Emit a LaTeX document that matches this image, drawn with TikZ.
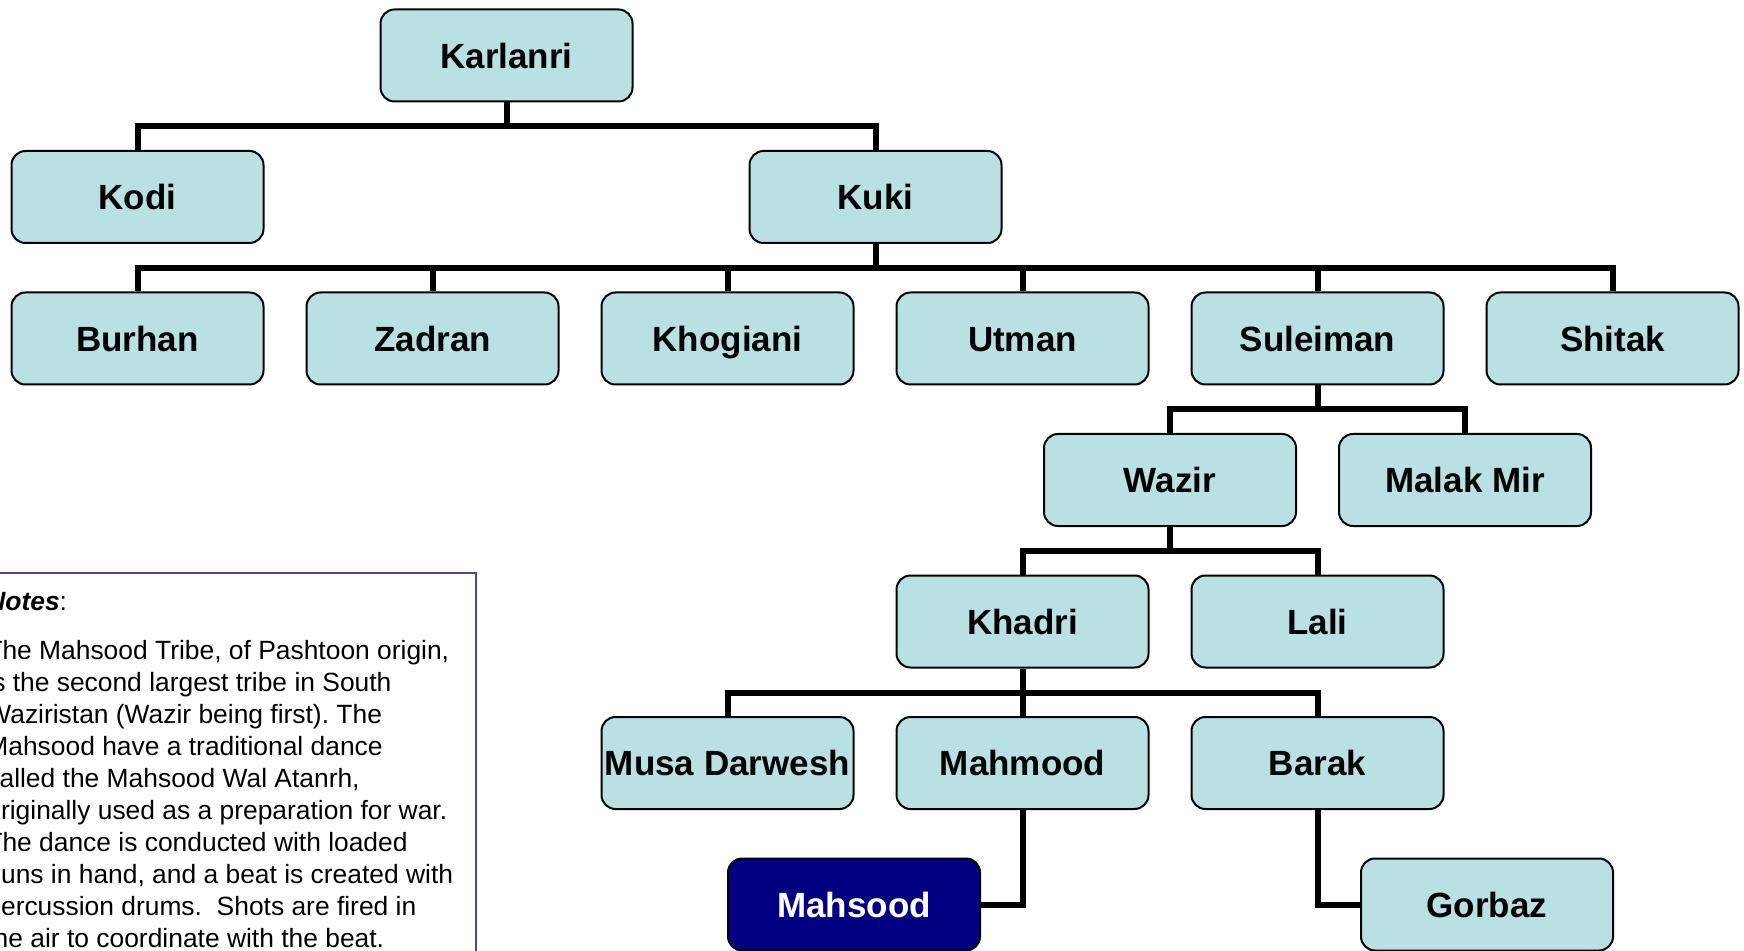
\documentclass[tikz,border=0pt]{standalone}
\usepackage{fontspec}
\setmainfont{Liberation Sans}
\frenchspacing

\definecolor{tribefill}{RGB}{185,224,227}
\definecolor{mahsoodfill}{RGB}{0,0,128}
\definecolor{notesline}{RGB}{72,72,160}

\begin{document}
\begin{tikzpicture}[x=0.5pt,y=-0.5pt,
    tribe/.style={draw=black, line width=1pt, fill=tribefill, rounded corners=7pt,
        minimum width=126pt, minimum height=46pt, inner sep=1pt,
        text height=12.6pt, text depth=0pt,
        font=\fontsize{17.5}{21}\selectfont\bfseries},
    mahsood/.style={tribe, fill=mahsoodfill, text=white},
    link/.style={line width=3pt},
    notestext/.style={inner sep=0pt, font=\fontsize{13.2}{16}\selectfont}]

        \def \colstep {295}
        \def \rowstep {141.5}
        \def \toprow {55.5}
        \def \firstcol {137.5}
        \def \busdrop {24}

        \useasboundingbox (0,0) rectangle (1744,951);
        \clip (0,0) rectangle (1744,951);

        % top of the tree
        \node[tribe] (Karlanri) at (506.5, \toprow) {Karlanri};
        \node[tribe] (Kodi) at (\firstcol, {\toprow + \rowstep}) {Kodi};
        \node[tribe] (Kuki) at (875.5, {\toprow + \rowstep}) {Kuki};

        % sons of Kuki
        \foreach \name [count=\i] in {Burhan, Zadran, Khogiani, Utman, Suleiman, Shitak}{
            \node[tribe] (\name) at ({\firstcol + \colstep*(\i-1)}, {\toprow + 2*\rowstep}) {\name};
        };

        \node[tribe] (Wazir) at (1170, {\toprow + 3*\rowstep}) {Wazir};
        \node[tribe] (MalakMir) at (1465, {\toprow + 3*\rowstep}) {Malak Mir};

        \node[tribe] (Khadri) at (1022.5, {\toprow + 4*\rowstep}) {Khadri};
        \node[tribe] (Lali) at (1317.5, {\toprow + 4*\rowstep}) {Lali};

        \node[tribe] (MusaDarwesh) at (727.5, {\toprow + 5*\rowstep}) {Musa Darwesh};
        \node[tribe] (Mahmood) at (1022.5, {\toprow + 5*\rowstep}) {Mahmood};
        \node[tribe] (Barak) at (1317.5, {\toprow + 5*\rowstep}) {Barak};

        \node[mahsood] (Mahsood) at (854, {\toprow + 6*\rowstep}) {Mahsood};
        \node[tribe] (Gorbaz) at (1487, {\toprow + 6*\rowstep}) {Gorbaz};

        % connectors
        \foreach \child in {Kodi, Kuki}{
            \draw[link] (Karlanri.south) -- ++(0,\busdrop) -| (\child.north);
        };
        \foreach \child in {Burhan, Zadran, Khogiani, Utman, Suleiman, Shitak}{
            \draw[link] (Kuki.south) -- ++(0,\busdrop) -| (\child.north);
        };
        \foreach \child in {Wazir, MalakMir}{
            \draw[link] (Suleiman.south) -- ++(0,\busdrop) -| (\child.north);
        };
        \foreach \child in {Khadri, Lali}{
            \draw[link] (Wazir.south) -- ++(0,\busdrop) -| (\child.north);
        };
        \foreach \child in {MusaDarwesh, Mahmood, Barak}{
            \draw[link] (Khadri.south) -- ++(0,\busdrop) -| (\child.north);
        };
        \draw[link] (Mahmood.south) |- (Mahsood.east);
        \draw[link] (Barak.south) |- (Gorbaz.west);

        % notes box
        \draw[color=notesline, line width=1.1pt] (-10,573) rectangle (476,1000);
        \node[notestext, anchor=base west] (notestitle) at (-14,610) {\textbf{\textit{Notes}}:};
        \node[notestext, anchor=base west] (notesbody) at (-14,659)
            {\parbox[t]{250pt}{\raggedright
             The Mahsood Tribe, of Pashtoon origin,\\
             is the second largest tribe in South\\
             Waziristan (Wazir being first). The\\
             Mahsood have a traditional dance\\
             called the Mahsood Wal Atanrh,\\
             originally used as a preparation for war.\\
             The dance is conducted with loaded\\
             guns in hand, and a beat is created with\\
             percussion drums.~ Shots are fired in\\
             the air to coordinate with the beat.}};

    \end{tikzpicture}
\end{document}
